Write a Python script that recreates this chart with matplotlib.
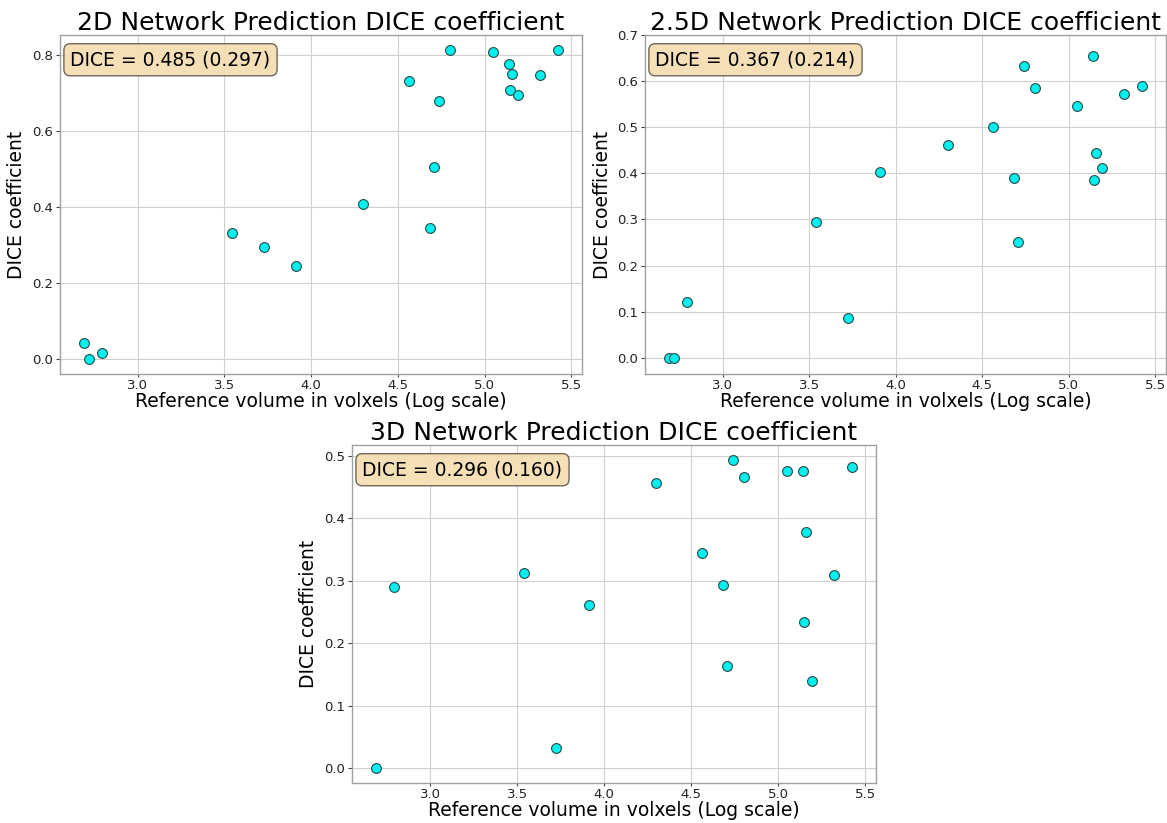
import matplotlib
matplotlib.use("Agg")
import matplotlib.pyplot as plt
from matplotlib.ticker import MultipleLocator
import numpy as np

# ---- data ----
log_volume = [2.689, 2.722, 2.793, 3.541, 3.726, 3.911, 4.300, 4.561, 4.683, 4.707,
              4.739, 4.802, 5.048, 5.141, 5.159, 5.146, 5.193, 5.317, 5.424]

dice_2d = [0.041, 0.001, 0.015, 0.332, 0.294, 0.244, 0.408, 0.732, 0.345, 0.505,
           0.678, 0.812, 0.807, 0.777, 0.750, 0.709, 0.694, 0.748, 0.812]

dice_25d = [0.000, 0.000, 0.122, 0.294, 0.087, 0.403, 0.462, 0.501, 0.390, 0.251,
            0.633, 0.585, 0.545, 0.655, 0.445, 0.385, 0.411, 0.571, 0.589]

dice_3d = [0.001, np.nan, 0.290, 0.313, 0.033, 0.262, 0.456, 0.344, 0.293, 0.164,
           0.493, 0.466, 0.476, 0.476, 0.379, 0.234, 0.139, 0.310, 0.483]

titles = ["2D Network Prediction DICE coefficient",
          "2.5D Network Prediction DICE coefficient",
          "3D Network Prediction DICE coefficient"]
summary_mean = [0.485, 0.367, 0.296]
summary_std = [0.297, 0.214, 0.160]
y_steps = [0.2, 0.1, 0.1]

xlabel = "Reference volume in volxels (Log scale)"
ylabel = "DICE coefficient"

# ---- figure ----
W, H = 1167, 823
fig = plt.figure(figsize=(W / 100, H / 100), dpi=100)

def px_axes(left, top, right, bottom):
    return fig.add_axes([left / W, 1 - bottom / H, (right - left) / W, (bottom - top) / H])

axes = [px_axes(60, 35, 582, 374),
        px_axes(645, 35, 1166, 374),
        px_axes(352, 445, 876, 783)]

series = [dice_2d, dice_25d, dice_3d]

for ax, ys, title, m, s, st in zip(axes, series, titles, summary_mean, summary_std, y_steps):
    ax.set_facecolor("white")
    ax.grid(True, color="#d0d0d0", linewidth=0.8)
    ax.set_axisbelow(True)
    ax.scatter(log_volume, ys, s=50, c="#00f0f0", edgecolors="#2a4a4a",
               linewidths=0.8, zorder=3)
    for sp in ax.spines.values():
        sp.set_color("#a0a0a0")
        sp.set_linewidth(1.0)
    ax.tick_params(axis="both", labelsize=9.5, colors="#444444", labelcolor="#222222",
                   length=3, width=0.8, pad=2)
    ax.tick_params(axis="x", length=2, pad=1.5)
    ax.set_xticks([3.0, 3.5, 4.0, 4.5, 5.0, 5.5])
    ax.yaxis.set_major_locator(MultipleLocator(st))
    ax.set_title(title, fontsize=18, pad=2)
    ax.set_xlabel(xlabel, fontsize=13.5, labelpad=0)
    ax.set_ylabel(ylabel, fontsize=13.5, labelpad=4)
    ax.text(0.02, 0.955, "DICE = %.3f (%.3f)" % (m, s), transform=ax.transAxes,
            fontsize=13.5, va="top", ha="left",
            bbox=dict(boxstyle="round,pad=0.35", facecolor="wheat", edgecolor="#6a6050",
                      alpha=0.95))

axes[1].set_ylim(-0.035, 0.70)

fig.savefig("out.png", dpi=100, facecolor="white")
